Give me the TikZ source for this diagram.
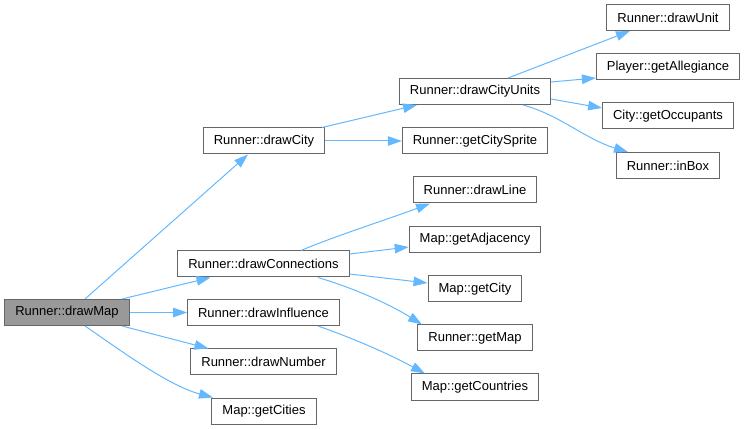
\documentclass[tikz,border=0pt]{standalone}
\usepackage{fontspec}
\setmainfont{Liberation Sans}
\usetikzlibrary{arrows.meta,calc}
\definecolor{edgeblue}{HTML}{63B8FF}
\definecolor{boxborder}{HTML}{666666}
\definecolor{hlfill}{HTML}{999999}
\begin{document}
\begin{tikzpicture}[x=1pt,y=-1pt,
  fn/.style={draw=boxborder, fill=white, line width=1pt, minimum height=26pt,
    inner xsep=10.5pt, inner ysep=0pt, font=\fontsize{13}{15}\selectfont, text=black},
  hl/.style={fn, fill=hlfill},
  edge/.style={draw=edgeblue, line width=1pt, -{Triangle[length=14pt,width=9.5pt]}}]
\useasboundingbox (0,0) rectangle (750,430);

\node[hl] (drawMap) at (67,312.5) {Runner::drawMap};
\node[fn] (drawCity) at (264,141) {Runner::drawCity};
\node[fn] (drawConnections) at (263.5,264) {Runner::drawConnections};
\node[fn] (drawInfluence) at (263.5,312.5) {Runner::drawInfluence};
\node[fn] (drawNumber) at (263.5,362) {Runner::drawNumber};
\node[fn] (getCities) at (264,411) {Map::getCities};
\node[fn] (drawCityUnits) at (475,91.5) {Runner::drawCityUnits};
\node[fn] (getCitySprite) at (475,141) {Runner::getCitySprite};
\node[fn] (drawLine) at (475,190) {Runner::drawLine};
\node[fn] (getAdjacency) at (475,239.5) {Map::getAdjacency};
\node[fn] (getCity) at (475,289) {Map::getCity};
\node[fn] (getMap) at (475,338) {Runner::getMap};
\node[fn] (getCountries) at (475,387) {Map::getCountries};
\node[fn] (drawUnit) at (668,17.5) {Runner::drawUnit};
\node[fn] (getAllegiance) at (668,67) {Player::getAllegiance};
\node[fn] (getOccupants) at (668,116) {City::getOccupants};
\node[fn] (inBox) at (668,165.5) {Runner::inBox};

\draw[edge] ([xshift=18pt]drawMap.north) -- ([xshift=-16pt]drawCity.south);
\draw[edge] ([xshift=55pt]drawMap.north) -- ([xshift=-53pt]drawConnections.south);
\draw[edge] (drawMap.east) -- (drawInfluence.west);
\draw[edge] ([xshift=55pt]drawMap.south) -- ([xshift=-55pt]drawNumber.north);
\draw[edge] ([xshift=18pt]drawMap.south) .. controls +(35,24) and +(-45,-12) .. ([xshift=-51pt]getCities.north);

\draw[edge] ([xshift=58pt]drawCity.north) -- ([xshift=-58pt]drawCityUnits.south);
\draw[edge] (drawCity.east) -- (getCitySprite.west);

\draw[edge] ([xshift=33pt]drawCityUnits.north) -- ([xshift=-38pt]drawUnit.south);
\draw[edge] ([yshift=9.5pt]drawCityUnits.east) -- ([yshift=-11pt]getAllegiance.west);
\draw[edge] ([yshift=-7.5pt]drawCityUnits.east) -- ([yshift=8pt]getOccupants.west);
\draw[edge] ([xshift=48pt]drawCityUnits.south) .. controls +(37,10) and +(-43,-13) .. ([xshift=-40pt]inBox.north);

\draw[edge] ([xshift=37.5pt]drawConnections.north) .. controls +(30,-13) and +(-40,15) .. ([xshift=-45pt]drawLine.south);
\draw[edge] ([yshift=10pt]drawConnections.east) -- ([yshift=-7.5pt]getAdjacency.west);
\draw[edge] ([yshift=-10pt]drawConnections.east) -- ([yshift=6pt]getCity.west);
\draw[edge] ([xshift=54.5pt]drawConnections.south) .. controls +(37,11) and +(-32,-20) .. ([xshift=-53pt]getMap.north);

\draw[edge] ([xshift=54.5pt]drawInfluence.south) .. controls +(37,13) and +(-35,-19) .. ([xshift=-50pt]getCountries.north);
\end{tikzpicture}
\end{document}
